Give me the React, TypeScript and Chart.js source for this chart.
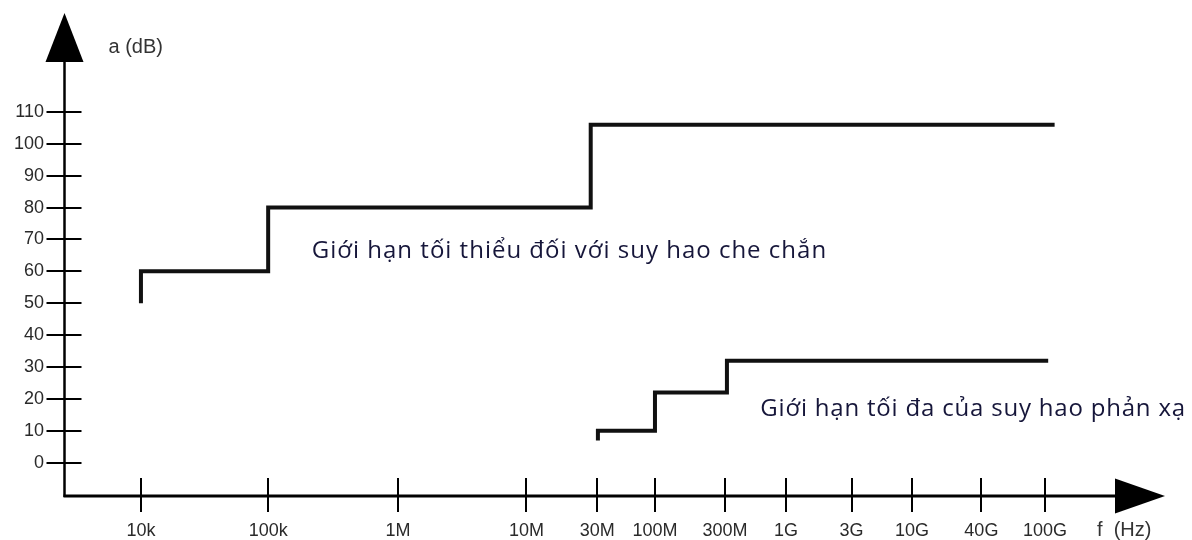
import React, { useEffect, useRef } from "react";
import { Chart, registerables } from "chart.js";

Chart.register(...registerables);

// Frequency tick labels and their positions along the (non-uniform) frequency axis
const FREQ_LABELS = ["10k", "100k", "1M", "10M", "30M", "100M", "300M", "1G", "3G", "10G", "40G", "100G"];
const FREQ_POS = [0, 0.99, 2.0, 3.0, 3.55, 4.0, 4.545, 5.02, 5.53, 6.0, 6.54, 7.035];

// Attenuation ticks (dB)
const Y_TICKS = [0, 10, 20, 30, 40, 50, 60, 70, 80, 90, 100, 110];

// Minimum screening attenuation (step curve)
const SHIELD_X = [0, 0, 0.99, 0.99, 3.5, 3.5, 7.11];
const SHIELD_Y = [50, 60, 60, 80, 80, 106, 106];

// Maximum return loss (step curve)
const REFL_X = [3.556, 3.556, 4.0, 4.0, 4.56, 4.56, 7.06];
const REFL_Y = [7, 10, 10, 22, 22, 32, 32];

const SHIELD_LABEL = "Giới hạn tối thiểu đối với suy hao che chắn";
const REFL_LABEL = "Giới hạn tối đa của suy hao phản xạ";
const Y_TITLE = "a (dB)";
const X_TITLE = "f  (Hz)";

const X_MIN = -0.591;
const X_MAX = 7.969;
const Y_MIN = -10.44;
const Y_MAX = 141;

const ANNOTATIONS = [
  { text: SHIELD_LABEL, x: 1.33, y: 66.3, spacing: "1px" },
  { text: REFL_LABEL, x: 4.82, y: 16.8, spacing: "0.8px" },
];

const axesPlugin = {
  id: "customAxes",
  afterDraw(chart: any) {
    const ctx = chart.ctx as CanvasRenderingContext2D;
    const xs = chart.scales.x;
    const ys = chart.scales.y;
    const area = chart.chartArea;
    const ax = Math.round(area.left) - 0.5;
    const ay = area.bottom;
    ctx.save();
    ctx.strokeStyle = "#000";
    ctx.fillStyle = "#000";
    // y axis line
    ctx.lineWidth = 2.5;
    ctx.beginPath();
    ctx.moveTo(ax, ay + 1);
    ctx.lineTo(ax, area.top + 45);
    ctx.stroke();
    // y arrow
    ctx.beginPath();
    ctx.moveTo(ax, area.top);
    ctx.lineTo(ax - 19, area.top + 49);
    ctx.lineTo(ax + 19, area.top + 49);
    ctx.closePath();
    ctx.fill();
    // x axis line
    ctx.lineWidth = 3;
    ctx.beginPath();
    ctx.moveTo(ax - 1, ay);
    ctx.lineTo(area.right - 45, ay);
    ctx.stroke();
    // x arrow
    ctx.beginPath();
    ctx.moveTo(area.right, ay);
    ctx.lineTo(area.right - 50, ay - 17.5);
    ctx.lineTo(area.right - 50, ay + 17.5);
    ctx.closePath();
    ctx.fill();
    // x tick marks
    ctx.lineWidth = 2;
    xs.ticks.forEach((t: any) => {
      const px = Math.round(xs.getPixelForValue(t.value));
      ctx.beginPath();
      ctx.moveTo(px, ay - 18);
      ctx.lineTo(px, ay + 16);
      ctx.stroke();
    });
    // y tick marks
    ys.ticks.forEach((t: any) => {
      const py = Math.round(ys.getPixelForValue(t.value));
      ctx.beginPath();
      ctx.moveTo(ax - 18, py);
      ctx.lineTo(ax + 17, py);
      ctx.stroke();
    });
    // axis titles
    ctx.fillStyle = "#333";
    ctx.font = "20px 'Liberation Sans', Arial, sans-serif";
    ctx.textBaseline = "middle";
    ctx.textAlign = "left";
    ctx.fillText(Y_TITLE, ax + 44, area.top + 34);
    ctx.fillText(X_TITLE, area.right - 68, 530);
    // annotations
    ctx.fillStyle = "#16163a";
    ctx.font = "24px 'Open Sans', 'Noto Sans', sans-serif";
    ANNOTATIONS.forEach((a) => {
      (ctx as any).letterSpacing = a.spacing;
      ctx.fillText(a.text, xs.getPixelForValue(a.x), ys.getPixelForValue(a.y));
    });
    ctx.restore();
  },
};

export default function App() {
  const ref = useRef<HTMLCanvasElement | null>(null);
  useEffect(() => {
    if (!ref.current) return;
    const chart = new Chart(ref.current, {
      type: "scatter",
      data: {
        datasets: [
          {
            label: SHIELD_LABEL,
            data: SHIELD_X.map((x, i) => ({ x, y: SHIELD_Y[i] })),
            showLine: true,
            borderColor: "#111",
            borderWidth: 4,
            pointRadius: 0,
            borderJoinStyle: "miter",
            borderCapStyle: "butt",
          },
          {
            label: REFL_LABEL,
            data: REFL_X.map((x, i) => ({ x, y: REFL_Y[i] })),
            showLine: true,
            borderColor: "#111",
            borderWidth: 4,
            pointRadius: 0,
            borderJoinStyle: "miter",
            borderCapStyle: "butt",
          },
        ],
      },
      options: {
        animation: false,
        responsive: false,
        maintainAspectRatio: false,
        layout: { padding: { top: 13, right: 27, left: 0, bottom: 0 } },
        plugins: { legend: { display: false }, tooltip: { enabled: false } },
        scales: {
          x: {
            type: "linear",
            min: X_MIN,
            max: X_MAX,
            afterBuildTicks: (s: any) => {
              s.ticks = FREQ_POS.map((v) => ({ value: v }));
            },
            afterFit: (s: any) => {
              s.height = 44;
              s.paddingLeft = 0;
              s.paddingRight = 0;
            },
            grid: { display: false, drawTicks: false },
            border: { display: false },
            ticks: {
              autoSkip: false,
              maxRotation: 0,
              padding: 24,
              color: "#2a2a2a",
              font: { family: "'Liberation Sans', Arial, sans-serif", size: 18 },
              callback: (v: any) => {
                const i = FREQ_POS.indexOf(Number(v));
                return i >= 0 ? FREQ_LABELS[i] : "";
              },
            },
          },
          y: {
            type: "linear",
            min: Y_MIN,
            max: Y_MAX,
            afterBuildTicks: (s: any) => {
              s.ticks = Y_TICKS.map((v) => ({ value: v }));
            },
            afterFit: (s: any) => {
              s.width = 65;
              s.paddingTop = 0;
              s.paddingBottom = 0;
            },
            grid: { display: false, drawTicks: false },
            border: { display: false },
            ticks: {
              autoSkip: false,
              padding: 21,
              color: "#2a2a2a",
              font: { family: "'Liberation Sans', Arial, sans-serif", size: 18 },
              callback: (v: any) => String(v),
            },
          },
        },
      },
      plugins: [axesPlugin],
    });
    return () => chart.destroy();
  }, []);
  return (
    <div style={{ position: "fixed", left: 0, top: 0, width: 1192, height: 540, background: "#fff" }}>
      <canvas ref={ref} width={1192} height={540} style={{ display: "block", width: 1192, height: 540 }} />
    </div>
  );
}
